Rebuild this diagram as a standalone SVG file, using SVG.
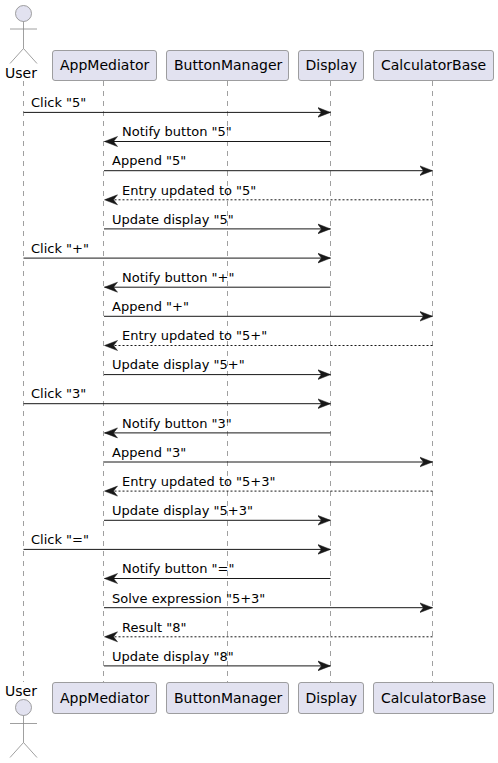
<svg xmlns="http://www.w3.org/2000/svg" width="498" height="763" viewBox="0 0 498 763">
<style>
text{font-family:"DejaVu Sans",sans-serif;font-size:14px;fill:#000}
#labels text{font-size:13px}
.box{fill:#E2E2F0;stroke:#888;stroke-width:.8}
.actor{fill:none;stroke:#888;stroke-width:.8}
.head{fill:#E2E2F0;stroke:#888;stroke-width:.8}
.life{stroke:#888;stroke-width:.8;stroke-dasharray:5 5;fill:none}
.m{stroke:#181818;stroke-width:1;fill:none}
.d{stroke:#181818;stroke-width:1;fill:none;stroke-dasharray:2 2}
</style>
<defs>
<marker id="r" markerUnits="userSpaceOnUse" markerWidth="14" markerHeight="12" refX="13" refY="6" orient="auto"><polygon points="0,1 13,6 0,11 4,6" fill="#181818" stroke="#181818" stroke-width=".5"/></marker>
</defs>
<g id="lifelines">
<path class="life" d="M23.5 81V682M103.5 81V682M227.5 81V682M330.5 81V682M432.5 81V682"/>
</g>
<g id="user-top"><circle class="head" cx="23.5" cy="13.5" r="8"/><path class="actor" d="M23.5 21.5V48.500M10 29H37M23.500 48.500L10 63.500M23.500 48.500L37 63.500"/><text x="5" y="78">User</text></g>
<g id="appmediator-top"><rect class="box" x="52.500" y="50.500" width="104" height="30" rx="2.500"/><text x="60" y="70">AppMediator</text></g>
<g id="buttonmanager-top"><rect class="box" x="166.500" y="50.500" width="122" height="30" rx="2.500"/><text x="174" y="70">ButtonManager</text></g>
<g id="display-top"><rect class="box" x="298.500" y="50.500" width="65" height="30" rx="2.500"/><text x="305.500" y="70">Display</text></g>
<g id="calculatorbase-top"><rect class="box" x="373.500" y="50.500" width="120" height="30" rx="2.500"/><text x="381" y="70">CalculatorBase</text></g>
<g id="connectors">
<path class="m" marker-end="url(#r)" d="M23.500 112.400H330.500"/>
<path class="m" marker-end="url(#r)" d="M330.500 141.500H104.500"/>
<path class="m" marker-end="url(#r)" d="M104 170.700H432.500"/>
<path class="d" marker-end="url(#r)" d="M432.500 199.800H104.500"/>
<path class="m" marker-end="url(#r)" d="M104 228.900H330.500"/>
<path class="m" marker-end="url(#r)" d="M23.500 258.100H330.500"/>
<path class="m" marker-end="url(#r)" d="M330.500 287.200H104.500"/>
<path class="m" marker-end="url(#r)" d="M104 316.300H432.500"/>
<path class="d" marker-end="url(#r)" d="M432.500 345.500H104.500"/>
<path class="m" marker-end="url(#r)" d="M104 374.600H330.500"/>
<path class="m" marker-end="url(#r)" d="M23.500 403.700H330.500"/>
<path class="m" marker-end="url(#r)" d="M330.500 432.900H104.500"/>
<path class="m" marker-end="url(#r)" d="M104 462H432.500"/>
<path class="d" marker-end="url(#r)" d="M432.500 491.100H104.500"/>
<path class="m" marker-end="url(#r)" d="M104 520.300H330.500"/>
<path class="m" marker-end="url(#r)" d="M23.500 549.400H330.500"/>
<path class="m" marker-end="url(#r)" d="M330.500 578.500H104.500"/>
<path class="m" marker-end="url(#r)" d="M104 607.700H432.500"/>
<path class="d" marker-end="url(#r)" d="M432.500 636.800H104.500"/>
<path class="m" marker-end="url(#r)" d="M104 665.900H330.500"/>
</g>
<g id="labels">
<text x="31" y="107">Click "5"</text>
<text x="122" y="136">Notify button "5"</text>
<text x="112" y="165">Append "5"</text>
<text x="122" y="195">Entry updated to "5"</text>
<text x="112" y="224">Update display "5"</text>
<text x="31" y="253">Click "+"</text>
<text x="122" y="282">Notify button "+"</text>
<text x="112" y="311">Append "+"</text>
<text x="122" y="340">Entry updated to "5+"</text>
<text x="112" y="369">Update display "5+"</text>
<text x="31" y="398">Click "3"</text>
<text x="122" y="428">Notify button "3"</text>
<text x="112" y="457">Append "3"</text>
<text x="122" y="486">Entry updated to "5+3"</text>
<text x="112" y="515">Update display "5+3"</text>
<text x="31" y="544">Click "="</text>
<text x="122" y="573">Notify button "="</text>
<text x="112" y="603">Solve expression "5+3"</text>
<text x="122" y="632">Result "8"</text>
<text x="112" y="661">Update display "8"</text>
</g>
<g id="user-bottom"><text x="5" y="696">User</text><circle class="head" cx="23.500" cy="707.500" r="8"/><path class="actor" d="M23.500 715.500V742.500M10 723.500H37M23.500 742.500L10 757.500M23.500 742.500L37 757.500"/></g>
<g id="appmediator-bottom"><rect class="box" x="52.500" y="682.500" width="104" height="31" rx="2.500"/><text x="60" y="703">AppMediator</text></g>
<g id="buttonmanager-bottom"><rect class="box" x="166.500" y="682.500" width="122" height="31" rx="2.500"/><text x="174" y="703">ButtonManager</text></g>
<g id="display-bottom"><rect class="box" x="298.500" y="682.500" width="65" height="31" rx="2.500"/><text x="305.500" y="703">Display</text></g>
<g id="calculatorbase-bottom"><rect class="box" x="373.500" y="682.500" width="120" height="31" rx="2.500"/><text x="381" y="703">CalculatorBase</text></g>
</svg>
